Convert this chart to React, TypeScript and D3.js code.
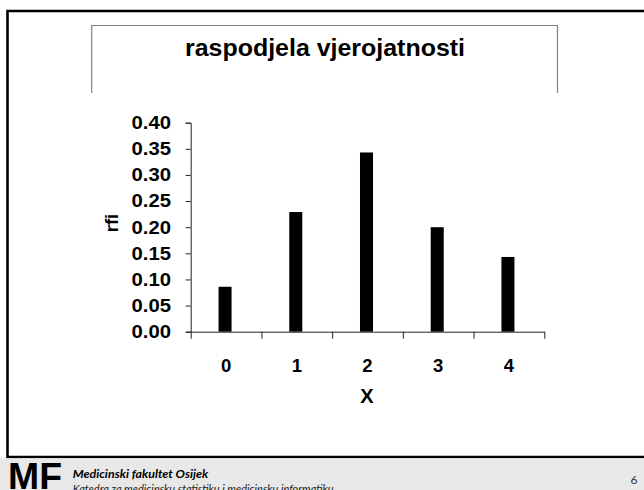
import React, { useEffect, useRef } from 'react';
import * as d3 from 'd3';

// values
const categories = ['0', '1', '2', '3', '4'];
const probabilities = [0.086, 0.229, 0.343, 0.2, 0.143];
const yTicks = [0, 0.05, 0.1, 0.15, 0.2, 0.25, 0.3, 0.35, 0.4];
const boundaryTicks = [0, 1, 2, 3, 4, 5];

const chartTitle = 'raspodjela vjerojatnosti';
const xTitle = 'X';
const yTitle = 'rfi';
const footerLine1 = 'Medicinski fakultet Osijek';
const footerLine2 = 'Katedra za medicinsku statistiku i medicinsku informatiku';
const pageNumber = '6';

const FONT = "'Liberation Sans', Arial, sans-serif";

const App = () => {
  const svgRef = useRef<SVGSVGElement>(null);

  useEffect(() => {
    const svg = d3.select(svgRef.current);
    svg.selectAll('*').remove();

    const plot = { left: 190.7, right: 544.3, top: 122.7, bottom: 331.7 };

    // slide frame (left, top, bottom borders)
    svg.append('path')
      .attr('d', 'M 660 11 H 7.5 V 457 H 660')
      .attr('fill', 'none')
      .attr('stroke', '#000')
      .attr('stroke-width', 2.6);

    // title box, open at the bottom
    svg.append('path')
      .attr('d', 'M 91.7 93 V 25.5 H 557.5 V 93')
      .attr('fill', 'none')
      .attr('stroke', '#808080')
      .attr('stroke-width', 1.2);

    svg.append('text')
      .attr('x', 325)
      .attr('y', 56)
      .attr('text-anchor', 'middle')
      .attr('font-family', FONT)
      .attr('font-weight', 'bold')
      .attr('font-size', 23.5)
      .attr('textLength', 280)
      .attr('lengthAdjust', 'spacingAndGlyphs')
      .text(chartTitle);

    // scales
    const x = d3.scaleBand()
      .domain(categories)
      .range([plot.left, plot.right])
      .paddingInner(0.816)
      .paddingOuter(0.408);
    const xEdge = d3.scaleLinear().domain([0, 5]).range([plot.left, plot.right]);
    const y = d3.scaleLinear().domain([0, 0.4]).range([plot.bottom, plot.top]);

    // bars
    svg.append('g')
      .selectAll('rect')
      .data(probabilities)
      .enter()
      .append('rect')
      .attr('x', (d, i) => (x(categories[i]) as number) - 1)
      .attr('y', d => y(d))
      .attr('width', x.bandwidth())
      .attr('height', d => plot.bottom - y(d))
      .attr('fill', '#000');

    // y axis
    const yAxis = svg.append('g')
      .attr('transform', `translate(${plot.left},0)`)
      .call(d3.axisLeft(y)
        .tickValues(yTicks)
        .tickFormat(d3.format('.2f'))
        .tickSize(5)
        .tickPadding(14.7));
    yAxis.selectAll('text')
      .attr('font-family', FONT)
      .attr('font-weight', 'bold')
      .attr('font-size', 18.5)
      .attr('textLength', 39.5)
      .attr('lengthAdjust', 'spacingAndGlyphs')
      .attr('fill', '#000');

    // x axis: ticks between the categories
    svg.append('g')
      .attr('transform', `translate(0,${plot.bottom})`)
      .call(d3.axisBottom(xEdge)
        .tickValues(boundaryTicks)
        .tickFormat(() => '')
        .tickSizeInner(7)
        .tickSizeOuter(0));

    // x labels at the bar centres
    const xLabels = svg.append('g')
      .attr('transform', `translate(0,${plot.bottom})`)
      .call(d3.axisBottom(x).tickSize(0).tickPadding(27.5));
    xLabels.select('.domain').remove();
    xLabels.selectAll('text')
      .attr('font-family', FONT)
      .attr('font-weight', 'bold')
      .attr('font-size', 18.5)
      .attr('fill', '#000');

    svg.selectAll('.domain, .tick line')
      .attr('stroke', '#222')
      .attr('stroke-width', 1);

    // axis titles
    svg.append('text')
      .attr('x', 367)
      .attr('y', 403)
      .attr('text-anchor', 'middle')
      .attr('font-family', FONT)
      .attr('font-weight', 'bold')
      .attr('font-size', 20)
      .text(xTitle);

    svg.append('text')
      .attr('transform', 'translate(118,223) rotate(-90)')
      .attr('text-anchor', 'middle')
      .attr('font-family', FONT)
      .attr('font-weight', 'bold')
      .attr('font-size', 18.5)
      .text(yTitle);

    // footer
    svg.append('rect')
      .attr('x', 0)
      .attr('y', 458.3)
      .attr('width', 644)
      .attr('height', 32)
      .attr('fill', '#e8e8e8');

    svg.append('text')
      .attr('x', 8)
      .attr('y', 489)
      .attr('font-family', FONT)
      .attr('font-weight', 'bold')
      .attr('font-size', 36)
      .attr('textLength', 54)
      .attr('lengthAdjust', 'spacingAndGlyphs')
      .text('MF');

    svg.append('text')
      .attr('x', 72.7)
      .attr('y', 478)
      .attr('font-family', 'Lato, sans-serif')
      .attr('font-style', 'italic')
      .attr('font-weight', 'bold')
      .attr('font-size', 11)
      .attr('textLength', 135.6)
      .attr('lengthAdjust', 'spacingAndGlyphs')
      .text(footerLine1);

    svg.append('text')
      .attr('x', 72.7)
      .attr('y', 493)
      .attr('font-family', 'Lato, sans-serif')
      .attr('font-style', 'italic')
      .attr('font-size', 11)
      .attr('fill', '#222')
      .text(footerLine2);

    svg.append('text')
      .attr('x', 634)
      .attr('y', 484)
      .attr('text-anchor', 'middle')
      .attr('font-family', 'Lato, sans-serif')
      .attr('font-size', 12)
      .attr('fill', '#333')
      .text(pageNumber);
  }, []);

  return (
    <svg
      ref={svgRef}
      width={644}
      height={490}
      style={{ position: 'absolute', left: 0, top: 0, background: '#fff' }}
    />
  );
};

export default App;
